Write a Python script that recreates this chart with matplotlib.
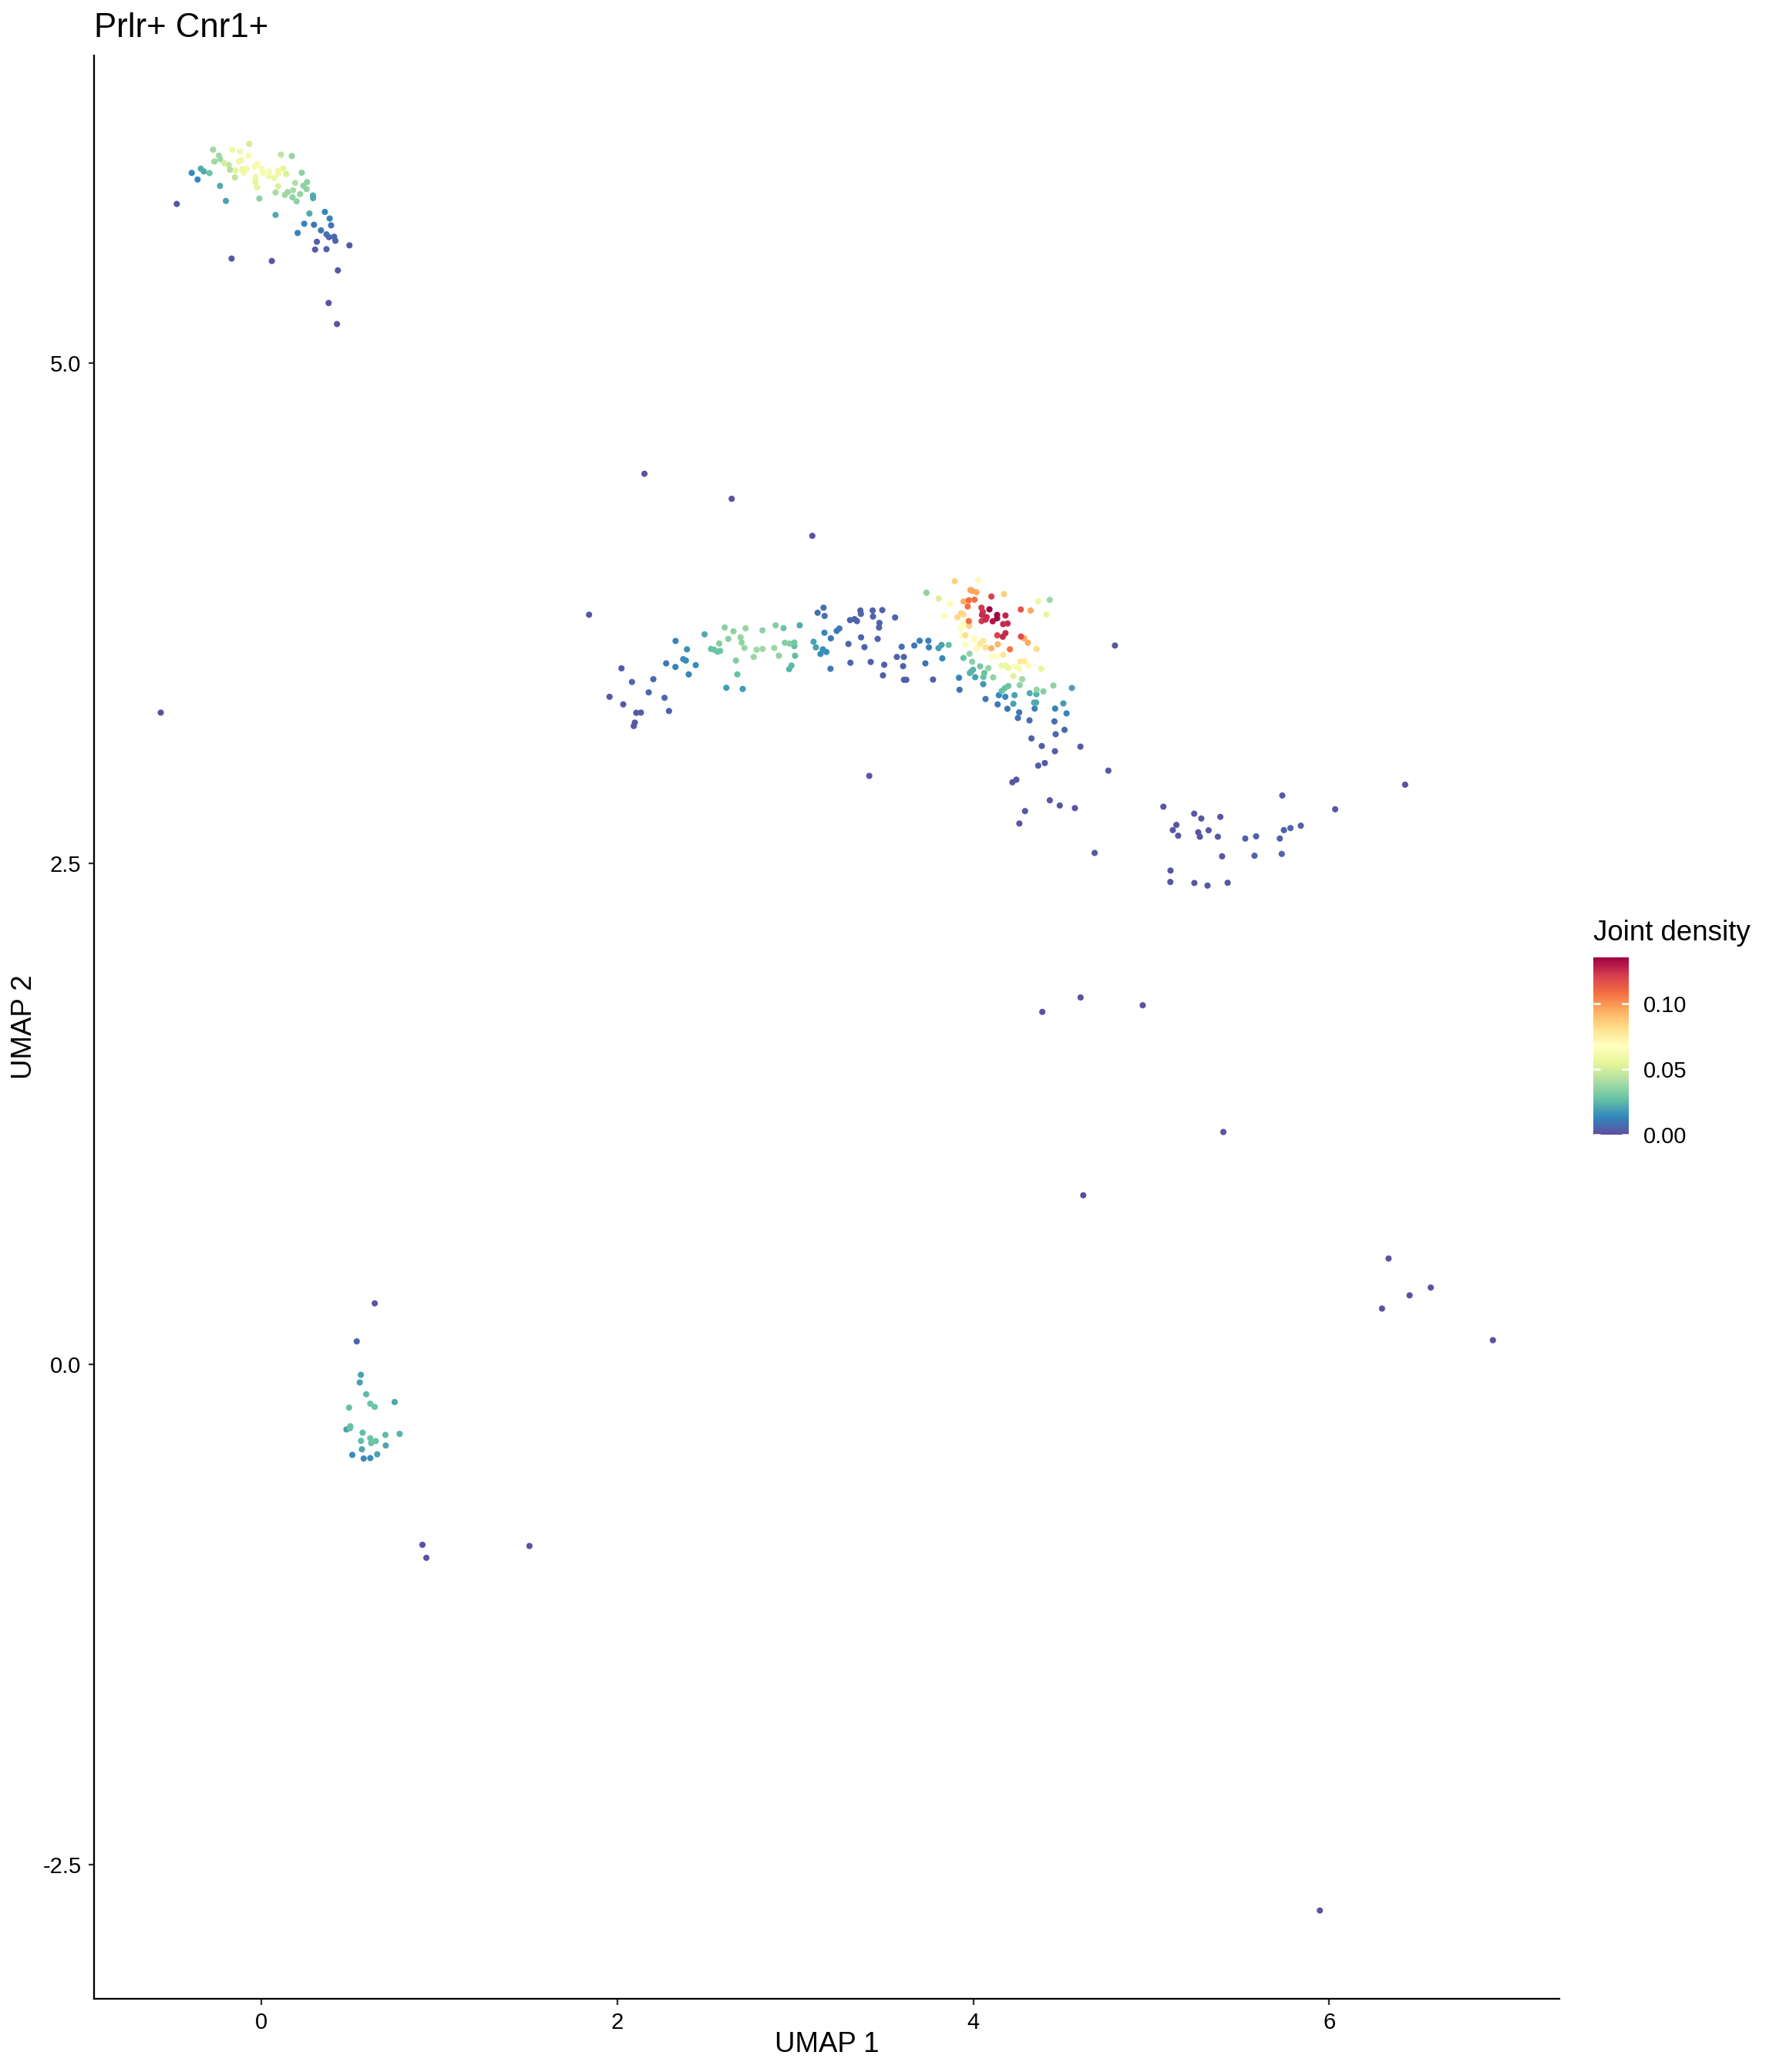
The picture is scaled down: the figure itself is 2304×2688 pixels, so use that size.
"""UMAP joint density plot for Prlr+ Cnr1+ cells."""

import numpy as np
import matplotlib
matplotlib.use("Agg")
import matplotlib.pyplot as plt
from matplotlib.colors import Normalize
from matplotlib.cm import ScalarMappable
from matplotlib.ticker import FormatStrFormatter

plt.rcParams["font.family"] = ["Liberation Sans", "DejaVu Sans"]
plt.rcParams["axes.unicode_minus"] = False

TITLE = "Prlr+ Cnr1+"
X_LABEL = "UMAP 1"
Y_LABEL = "UMAP 2"
LEGEND_TITLE = "Joint density"
X_TICKS = [0, 2, 4, 6]
Y_TICKS = [-2.5, 0.0, 2.5, 5.0]
CBAR_TICKS = [0.00, 0.05, 0.10]

# top-left cluster
top_u1 = [
    -0.067, -0.270, -0.162, -0.119, -0.071, 0.111, 0.172, -0.237, -0.231, -0.263,
    -0.208, -0.182, -0.126, -0.111, -0.022, -0.036, -0.339, -0.322, -0.290, -0.390,
    -0.357, -0.175, -0.145, -0.106, -0.081, -0.097, 0.003, 0.010, 0.045, 0.042,
    0.094, 0.097, 0.124, 0.141, 0.073, -0.032, -0.147, -0.032, -0.023, 0.228,
    0.191, 0.258, 0.237, 0.255, 0.095, 0.081, 0.179, 0.149, 0.133, 0.219,
    0.176, 0.199, -0.010, 0.291, 0.292, -0.231, -0.198, -0.474, 0.081, 0.271,
    0.358, 0.385, 0.393, 0.242, 0.297, 0.336, 0.205, 0.367, 0.381, 0.410,
    0.417, 0.313, 0.303, 0.367, 0.496, -0.166, 0.060, 0.431, 0.379, 0.426,
]
top_u2 = [
    6.095, 6.066, 6.065, 6.056, 6.036, 6.041, 6.034, 6.036, 6.019, 6.007,
    5.999, 5.990, 6.007, 6.014, 5.995, 5.981, 5.971, 5.957, 5.949, 5.950,
    5.917, 5.966, 5.962, 5.967, 5.970, 5.950, 5.971, 5.950, 5.958, 5.934,
    5.960, 5.944, 5.972, 5.944, 5.925, 5.929, 5.927, 5.904, 5.877, 5.951,
    5.900, 5.904, 5.886, 5.869, 5.883, 5.852, 5.863, 5.854, 5.840, 5.844,
    5.828, 5.808, 5.822, 5.837, 5.824, 5.885, 5.810, 5.795, 5.740, 5.747,
    5.755, 5.722, 5.688, 5.696, 5.691, 5.663, 5.650, 5.643, 5.629, 5.631,
    5.611, 5.606, 5.567, 5.569, 5.588, 5.522, 5.510, 5.463, 5.300, 5.195,
]
top_dens = [
    0.050, 0.038, 0.058, 0.060, 0.062, 0.045, 0.036, 0.038, 0.038, 0.038,
    0.050, 0.045, 0.060, 0.060, 0.062, 0.062, 0.022, 0.022, 0.028, 0.014,
    0.014, 0.042, 0.055, 0.058, 0.060, 0.060, 0.062, 0.062, 0.062, 0.060,
    0.060, 0.060, 0.055, 0.052, 0.058, 0.058, 0.045, 0.055, 0.055, 0.035,
    0.042, 0.035, 0.035, 0.035, 0.052, 0.040, 0.040, 0.038, 0.038, 0.036,
    0.035, 0.035, 0.035, 0.022, 0.022, 0.022, 0.020, 0.002, 0.022, 0.022,
    0.014, 0.013, 0.009, 0.013, 0.010, 0.010, 0.013, 0.008, 0.006, 0.006,
    0.005, 0.005, 0.004, 0.004, 0.003, 0.002, 0.002, 0.002, 0.001, 0.001,
]

# middle band, western half
west_u1 = [
    1.842, 2.024, 2.083, 1.957, 2.034, 2.107, 2.133, 2.099, 2.093, 2.177,
    2.203, 2.266, 2.291, 2.275, 2.327, 2.328, 2.392, 2.371, 2.386, 2.441,
    2.402, 2.491, 2.604, 2.653, 2.721, 2.573, 2.624, 2.693, 2.699, 2.527,
    2.545, 2.563, 2.578, 2.715, 2.667, 2.675, 2.613, 2.705, 2.767, 2.783,
    2.817, 2.816, 2.890, 2.934, 2.882, 2.908, 2.942, 2.968, 2.995, 2.995,
    2.999, 2.979, 2.966, 3.025, 3.103, 3.116, 3.155, 3.142, 3.175, 3.164,
    3.200, 3.233, 3.248, 3.198, 3.159, 3.126, 3.165,
]
west_u2 = [
    3.743, 3.475, 3.407, 3.333, 3.295, 3.253, 3.254, 3.204, 3.187, 3.355,
    3.421, 3.328, 3.262, 3.500, 3.482, 3.612, 3.570, 3.521, 3.514, 3.491,
    3.445, 3.645, 3.679, 3.660, 3.675, 3.599, 3.622, 3.630, 3.604, 3.572,
    3.568, 3.558, 3.562, 3.577, 3.514, 3.445, 3.378, 3.372, 3.532, 3.568,
    3.572, 3.665, 3.690, 3.676, 3.577, 3.538, 3.603, 3.599, 3.604, 3.586,
    3.538, 3.489, 3.471, 3.690, 3.608, 3.580, 3.570, 3.547, 3.557, 3.653,
    3.625, 3.662, 3.674, 3.473, 3.778, 3.753, 3.737,
]
west_dens = [
    0.002, 0.003, 0.006, 0.002, 0.003, 0.003, 0.003, 0.002, 0.002, 0.006,
    0.006, 0.006, 0.005, 0.010, 0.013, 0.013, 0.016, 0.015, 0.015, 0.015,
    0.013, 0.022, 0.034, 0.035, 0.036, 0.033, 0.034, 0.036, 0.036, 0.027,
    0.028, 0.028, 0.028, 0.037, 0.033, 0.027, 0.018, 0.018, 0.037, 0.038,
    0.038, 0.035, 0.033, 0.028, 0.037, 0.035, 0.033, 0.033, 0.030, 0.026,
    0.026, 0.025, 0.024, 0.022, 0.020, 0.020, 0.015, 0.015, 0.015, 0.014,
    0.010, 0.010, 0.010, 0.010, 0.008, 0.008, 0.008,
]

# middle band, eastern half with the hot spot
east_u1 = [
    3.366, 3.369, 3.435, 3.489, 3.437, 3.308, 3.333, 3.347, 3.473, 3.471,
    3.561, 3.370, 3.463, 3.299, 3.389, 3.310, 3.424, 3.500, 3.493, 3.598,
    3.571, 3.610, 3.606, 3.611, 3.624, 3.669, 3.699, 3.748, 3.751, 3.731,
    3.774, 3.805, 3.822, 3.862, 3.826, 3.737, 3.806, 3.870, 3.896, 4.026,
    3.839, 3.911, 3.932, 3.945, 3.946, 3.975, 4.007, 3.969, 3.984, 3.995,
    4.018, 4.102, 4.173, 4.046, 4.091, 4.054, 4.049, 4.075, 4.070, 4.047,
    4.134, 4.134, 4.109, 4.181, 4.168, 4.193, 3.975, 3.977, 3.946, 3.936,
    3.930, 3.935, 3.956, 4.004, 4.005, 3.956, 4.056, 4.039, 4.020, 4.070,
    4.102, 4.138, 4.135, 4.166, 4.181, 4.206, 4.105, 4.134, 4.168, 4.267,
    4.322, 4.268, 4.285, 4.307, 4.355, 4.365, 4.430, 4.411, 4.264, 4.288,
    4.311, 4.382, 4.158, 4.183, 4.197, 4.235, 4.259, 4.225, 4.275, 4.261,
    3.979, 3.945, 3.994, 4.039, 4.085, 3.999, 3.988, 3.981, 4.062, 4.057,
    4.011, 4.112, 4.056, 3.920, 3.923, 4.197, 4.177, 4.160, 4.144, 4.180,
    4.232, 4.069, 4.137, 4.225, 4.192, 4.258, 4.251, 4.317, 4.356, 4.355,
    4.394, 4.342, 4.353, 4.345, 4.450, 4.554, 4.506, 4.460, 4.524, 4.316,
    4.456, 4.513, 4.463, 4.327, 4.385, 4.459, 4.602, 4.402, 4.365, 4.242,
    4.220, 3.416, 4.430, 4.486, 4.571, 4.291, 4.259,
]
east_u2 = [
    3.764, 3.747, 3.764, 3.766, 3.734, 3.716, 3.721, 3.711, 3.702, 3.679,
    3.729, 3.630, 3.622, 3.597, 3.581, 3.503, 3.507, 3.493, 3.440, 3.583,
    3.532, 3.532, 3.486, 3.418, 3.418, 3.589, 3.613, 3.613, 3.580, 3.500,
    3.419, 3.576, 3.592, 3.592, 3.525, 3.853, 3.824, 3.798, 3.910, 3.915,
    3.737, 3.730, 3.751, 3.744, 3.809, 3.815, 3.818, 3.784, 3.866, 3.862,
    3.855, 3.834, 3.846, 3.778, 3.770, 3.757, 3.742, 3.731, 3.719, 3.711,
    3.742, 3.725, 3.710, 3.739, 3.696, 3.699, 3.711, 3.688, 3.699, 3.687,
    3.674, 3.638, 3.640, 3.626, 3.615, 3.594, 3.612, 3.597, 3.574, 3.579,
    3.575, 3.595, 3.640, 3.633, 3.651, 3.570, 3.535, 3.535, 3.543, 3.769,
    3.764, 3.634, 3.625, 3.603, 3.572, 3.810, 3.817, 3.744, 3.509, 3.511,
    3.488, 3.473, 3.489, 3.489, 3.477, 3.484, 3.473, 3.436, 3.421, 3.391,
    3.548, 3.527, 3.508, 3.485, 3.476, 3.468, 3.458, 3.452, 3.452, 3.432,
    3.431, 3.430, 3.396, 3.428, 3.368, 3.387, 3.376, 3.362, 3.341, 3.333,
    3.341, 3.322, 3.295, 3.298, 3.273, 3.255, 3.227, 3.351, 3.368, 3.346,
    3.360, 3.304, 3.304, 3.274, 3.389, 3.377, 3.300, 3.274, 3.250, 3.215,
    3.210, 3.168, 3.146, 3.125, 3.087, 3.061, 3.084, 3.002, 2.989, 2.919,
    2.906, 2.938, 2.816, 2.790, 2.777, 2.762, 2.700,
]
east_dens = [
    0.005, 0.005, 0.005, 0.005, 0.005, 0.005, 0.005, 0.005, 0.005, 0.005,
    0.005, 0.005, 0.005, 0.005, 0.005, 0.005, 0.004, 0.004, 0.004, 0.008,
    0.005, 0.005, 0.005, 0.004, 0.004, 0.009, 0.012, 0.012, 0.012, 0.008,
    0.004, 0.020, 0.020, 0.027, 0.014, 0.035, 0.052, 0.065, 0.085, 0.070,
    0.065, 0.083, 0.083, 0.082, 0.095, 0.108, 0.108, 0.108, 0.096, 0.096,
    0.095, 0.120, 0.085, 0.122, 0.135, 0.123, 0.125, 0.125, 0.125, 0.122,
    0.133, 0.133, 0.130, 0.127, 0.125, 0.125, 0.108, 0.085, 0.067, 0.067,
    0.067, 0.067, 0.080, 0.068, 0.068, 0.065, 0.078, 0.078, 0.070, 0.080,
    0.093, 0.092, 0.120, 0.125, 0.125, 0.107, 0.068, 0.068, 0.078, 0.115,
    0.095, 0.117, 0.095, 0.095, 0.082, 0.058, 0.038, 0.055, 0.078, 0.075,
    0.065, 0.055, 0.058, 0.058, 0.056, 0.063, 0.063, 0.053, 0.038, 0.036,
    0.036, 0.027, 0.034, 0.030, 0.036, 0.024, 0.024, 0.024, 0.028, 0.027,
    0.020, 0.036, 0.017, 0.013, 0.008, 0.028, 0.027, 0.027, 0.014, 0.014,
    0.020, 0.010, 0.010, 0.020, 0.009, 0.009, 0.008, 0.022, 0.036, 0.023,
    0.034, 0.022, 0.022, 0.013, 0.035, 0.020, 0.018, 0.013, 0.013, 0.007,
    0.007, 0.006, 0.006, 0.004, 0.004, 0.004, 0.003, 0.003, 0.003, 0.002,
    0.002, 0.002, 0.002, 0.002, 0.002, 0.002, 0.002,
]

# right-hand arc
right_u1 = [
    4.796, 4.759, 4.682, 5.068, 5.241, 5.281, 5.388, 5.141, 5.121, 5.151,
    5.264, 5.273, 5.322, 5.374, 5.398, 5.108, 5.107, 5.242, 5.316, 5.429,
    5.528, 5.589, 5.580, 5.722, 5.745, 5.782, 5.840, 5.733, 5.736, 6.033, 6.426,
]
right_u2 = [
    3.589, 2.964, 2.553, 2.784, 2.749, 2.725, 2.733, 2.693, 2.667, 2.639,
    2.656, 2.634, 2.666, 2.634, 2.536, 2.465, 2.408, 2.403, 2.390, 2.404,
    2.625, 2.636, 2.539, 2.625, 2.667, 2.677, 2.689, 2.548, 2.840, 2.771, 2.894,
]
right_dens = [
    0.002, 0.002, 0.002, 0.002, 0.002, 0.002, 0.002, 0.002, 0.002, 0.002,
    0.002, 0.002, 0.002, 0.002, 0.002, 0.002, 0.002, 0.002, 0.002, 0.002,
    0.005, 0.005, 0.005, 0.005, 0.005, 0.005, 0.004, 0.005, 0.003, 0.002, 0.001,
]

# lower-left cluster
lower_u1 = [
    0.638, 0.537, 0.560, 0.554, 0.590, 0.494, 0.613, 0.638, 0.750, 0.479,
    0.501, 0.499, 0.570, 0.698, 0.778, 0.561, 0.613, 0.644, 0.618, 0.700,
    0.566, 0.512, 0.576, 0.613, 0.652,
]
lower_u2 = [
    0.303, 0.113, -0.054, -0.092, -0.151, -0.218, -0.198, -0.214, -0.190, -0.327,
    -0.311, -0.321, -0.343, -0.354, -0.349, -0.384, -0.371, -0.385, -0.395, -0.407,
    -0.426, -0.454, -0.472, -0.470, -0.451,
]
lower_dens = [
    0.002, 0.005, 0.020, 0.020, 0.025, 0.027, 0.028, 0.028, 0.021, 0.020,
    0.027, 0.027, 0.026, 0.026, 0.024, 0.026, 0.028, 0.028, 0.028, 0.021,
    0.021, 0.015, 0.015, 0.015, 0.020,
]

# isolated cells
stray_u1 = [-0.564, 2.153, 2.643, 3.096, 4.388, 4.603, 4.952, 5.405, 4.618,
            6.333, 6.570, 6.451, 6.296, 6.919, 5.947, 0.906, 0.928, 1.507]
stray_u2 = [3.254, 4.447, 4.322, 4.137, 1.759, 1.831, 1.792, 1.159, 0.843,
            0.527, 0.382, 0.343, 0.277, 0.119, -2.730, -0.903, -0.968, -0.909]
stray_dens = [0.001] * len(stray_u1)


def _collect():
    groups = [
        (top_u1, top_u2, top_dens),
        (west_u1, west_u2, west_dens),
        (east_u1, east_u2, east_dens),
        (right_u1, right_u2, right_dens),
        (lower_u1, lower_u2, lower_dens),
        (stray_u1, stray_u2, stray_dens),
    ]
    xs, ys, ds = [], [], []
    for gx, gy, gd in groups:
        if not (len(gx) == len(gy) == len(gd)):
            raise ValueError(f"length mismatch: {len(gx)} {len(gy)} {len(gd)}")
        xs += gx
        ys += gy
        ds += gd
    x, y, d = np.array(xs), np.array(ys), np.array(ds)
    order = np.argsort(d, kind="stable")  # densest cells drawn last
    return x[order], y[order], d[order]


def _expand(v, frac=0.05):
    lo, hi = float(v.min()), float(v.max())
    pad = (hi - lo) * frac
    return lo - pad, hi + pad


def main():
    x, y, d = _collect()
    norm = Normalize(vmin=0.0, vmax=d.max())
    cmap = plt.get_cmap("Spectral_r")

    fig = plt.figure(figsize=(7.68, 8.96), dpi=300)
    ax = fig.add_axes([0.0530, 0.0353, 0.8251, 0.9379])
    ax.scatter(x, y, c=d, cmap=cmap, norm=norm, s=3.8, linewidths=0)

    ax.set_xlim(*_expand(x))
    ax.set_ylim(*_expand(y))
    ax.set_xticks(X_TICKS)
    ax.set_yticks(Y_TICKS)
    ax.xaxis.set_major_formatter(FormatStrFormatter("%d"))
    ax.yaxis.set_major_formatter(FormatStrFormatter("%.1f"))

    for side in ("top", "right"):
        ax.spines[side].set_visible(False)
    for side in ("left", "bottom"):
        ax.spines[side].set_linewidth(0.55)
        ax.spines[side].set_color("black")
    ax.tick_params(length=1.8, width=0.55, color="#333333",
                   labelsize=7, labelcolor="black", pad=2.2)

    ax.set_title(TITLE, loc="left", fontsize=10.5, pad=5.8)
    ax.set_xlabel(X_LABEL, fontsize=8.8)
    ax.set_ylabel(Y_LABEL, fontsize=8.8)
    ax.xaxis.set_label_coords(0.5, -0.0234)
    ax.xaxis.label.set_va("center")
    ax.yaxis.set_label_coords(-0.0479, 0.5)
    ax.yaxis.label.set_va("center")

    # colour bar legend
    cax = fig.add_axes([0.8971, 0.4524, 0.0200, 0.0856])
    cb = fig.colorbar(ScalarMappable(norm=norm, cmap=cmap), cax=cax)
    cb.outline.set_visible(False)
    cb.set_ticks(CBAR_TICKS)
    cb.set_ticklabels([f"{t:.2f}" for t in CBAR_TICKS])
    cb.minorticks_off()
    cax.tick_params(axis="y", left=True, right=True, labelleft=False,
                    labelright=True, direction="in", length=2.2, width=0.6,
                    color="white", labelsize=7, labelcolor="black", pad=4.6)
    fig.text(0.8971, 1 - 1220 / 2688, LEGEND_TITLE, fontsize=8.8,
             ha="left", va="baseline")

    fig.savefig("out.png", dpi=300)


if __name__ == "__main__":
    main()
